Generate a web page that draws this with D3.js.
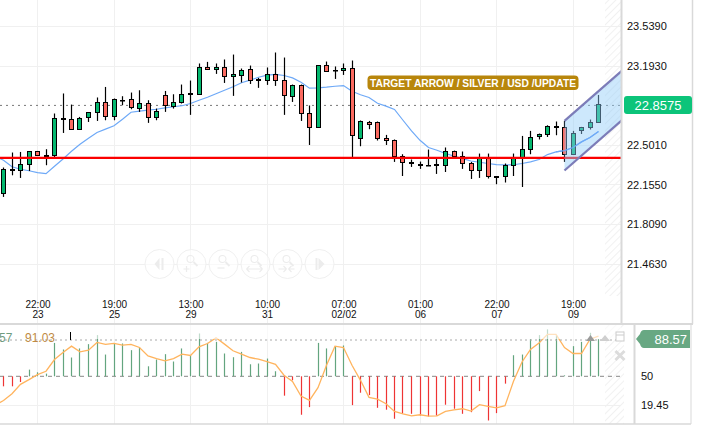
<!DOCTYPE html>
<html><head><meta charset="utf-8">
<script src="https://cdn.jsdelivr.net/npm/d3@7/dist/d3.min.js"></script>
<style>html,body{margin:0;padding:0;background:#fff}svg{display:block}text{font-family:"Liberation Sans",Arial,sans-serif}</style>
</head><body><svg id="c" width="705" height="425"></svg>
<script>
const open=[22.079,22.287,22.276,22.329,22.446,22.413,22.407,22.734,22.725,22.638,22.739,22.786,22.874,22.748,22.894,22.900,22.818,22.865,22.739,22.935,22.842,22.877,22.949,22.944,23.180,23.159,23.180,23.101,23.106,23.162,23.075,23.066,23.119,23.066,22.923,23.022,22.778,22.655,23.197,23.156,23.150,23.171,22.559,22.699,22.699,22.559,22.542,22.398,22.349,22.332,22.326,22.332,22.323,22.446,22.402,22.341,22.280,22.384,22.227,22.227,22.323,22.389,22.463,22.573,22.591,22.661,22.655,22.422,22.626,22.652,22.699];
const high=[22.306,22.437,22.442,22.446,22.451,22.466,22.778,22.953,22.856,22.748,22.786,22.918,23.010,22.909,22.929,22.961,22.981,22.894,22.821,22.975,22.946,23.031,23.066,23.215,23.229,23.215,23.250,23.293,23.171,23.197,23.089,23.180,23.311,23.267,23.031,23.031,22.848,23.197,23.232,23.189,23.215,23.241,22.717,22.713,22.708,22.591,22.551,22.422,22.376,22.358,22.463,22.398,22.481,22.454,22.446,22.355,22.428,22.428,22.230,22.341,22.428,22.582,22.626,22.603,22.675,22.708,22.713,22.626,22.661,22.725,22.940];
const low=[22.049,22.238,22.215,22.276,22.407,22.326,22.398,22.608,22.638,22.638,22.704,22.713,22.719,22.719,22.850,22.815,22.792,22.696,22.719,22.792,22.821,22.865,22.766,22.944,23.159,23.124,23.045,22.932,23.049,23.036,23.002,23.028,23.019,22.766,22.879,22.713,22.503,22.655,23.145,23.080,23.115,22.393,22.492,22.641,22.542,22.503,22.355,22.232,22.311,22.294,22.320,22.250,22.267,22.396,22.294,22.206,22.215,22.210,22.160,22.175,22.232,22.136,22.422,22.551,22.573,22.588,22.355,22.422,22.599,22.638,22.699];
const close=[22.288,22.278,22.332,22.446,22.407,22.402,22.734,22.722,22.638,22.734,22.786,22.874,22.748,22.900,22.888,22.827,22.865,22.743,22.795,22.844,22.874,22.944,22.940,23.180,23.159,23.180,23.101,23.119,23.154,23.066,23.066,23.119,23.066,22.935,23.022,22.778,22.655,23.197,23.145,23.150,23.171,22.582,22.708,22.678,22.559,22.542,22.398,22.349,22.343,22.323,22.320,22.323,22.442,22.398,22.337,22.280,22.384,22.227,22.215,22.323,22.384,22.463,22.565,22.591,22.664,22.655,22.422,22.603,22.655,22.699,22.8575];
const movingAvg=[22.404,22.370,22.313,22.291,22.278,22.262,22.253,22.317,22.381,22.448,22.509,22.562,22.612,22.641,22.671,22.728,22.789,22.798,22.807,22.815,22.827,22.837,22.846,22.865,22.894,22.920,22.951,22.981,23.012,23.047,23.069,23.095,23.113,23.119,23.110,23.089,23.051,22.999,23.002,23.008,23.016,23.022,22.973,22.942,22.918,22.868,22.842,22.813,22.719,22.626,22.544,22.481,22.457,22.428,22.405,22.384,22.363,22.352,22.341,22.332,22.329,22.330,22.341,22.356,22.376,22.419,22.442,22.454,22.481,22.530,22.568,22.620];
const histogram=[39.5,39.5,44,57,54.2,52.8,85,78.1,69.7,79.2,83.7,93.2,72.8,84.4,84.4,77.4,80.2,60.5,67.6,73.2,65.5,79.2,72.1,94.9,85,86.1,73.9,70,75.6,62.6,63.4,68.6,55.3,29.7,45.8,9.7,17.7,85,79.2,80.8,82.3,19.8,32.8,30.3,17,15,5.5,10.7,10.7,8.9,7.9,8.9,20.2,16,10.7,12.4,34.5,3.7,11.4,42.3,72.1,72.8,88.9,93.2,99.2,93.2,51,81.6,86.1,95.6,88.9];
const oscLine=[19.5,24.7,31.8,41.6,46.5,51.8,55.3,67.6,74.9,81.6,75.6,77.4,85.5,83.4,84.4,82.6,83.4,80.2,71.4,68.6,66.1,68.6,73.2,71.8,80.8,84.4,90.3,83.7,76.8,73.2,69.7,67.9,65.5,62.6,51.1,44.7,29.3,24.7,38.1,61.6,81.6,80.2,61.6,45.8,27.9,26.1,21.3,13.2,10.7,8.6,9.7,8.2,8.6,13.2,14.9,16,13.5,20.2,18.4,17,19.2,44.7,65,78.1,85,93.9,93.9,80.2,73.9,73.9,88.9,92.1];
const priceTicks=[23.5390,23.1930,22.5010,22.1550,21.8090,21.4630];
const timeTickIdx=[4,13,22,31,40,49,58,67];
const timeLabels=["22:00","19:00","13:00","10:00","07:00","01:00","22:00","19:00"];
const dateLabels=["23","25","29","31","02/02","06","07","09"];
const lastPrice=22.8575, supportPrice=22.390;
const oscTicks=[50,19.45], oscLast=88.57;
const channelIdx=[66,72.8], channelUpper=[22.713,23.155], channelLower=[22.280,22.722];
const note="TARGET ARROW / SILVER / USD /UPDATE";

const svg=d3.select("#c");
const W=621,H=324,B=424,RB=692;
const x=d3.scaleLinear().domain([0,70]).range([3.5,598.5]);
const y=d3.scaleLinear().domain([22.501,23.539]).range([145.2,26.4]);
const yo=d3.scaleLinear().domain([50,88.57]).range([376.3,339.5]);
const px=i=>Math.floor(x(i))+.5;
const snap=v=>Math.round(v-.5)+.5;
const defs=svg.append("defs");
defs.append("clipPath").attr("id","m").append("rect").attr("width",W).attr("height",H);
defs.append("clipPath").attr("id","o").append("rect").attr("y",H+1).attr("width",W).attr("height",B-H-1);
const pat=defs.append("pattern").attr("id","h").attr("width",5).attr("height",5).attr("patternUnits","userSpaceOnUse").attr("patternTransform","rotate(45)");
pat.append("line").attr("x1",0).attr("x2",0).attr("y1",0).attr("y2",5).attr("stroke","#f1f1f1").attr("stroke-width",2);

// hatch
svg.append("rect").attr("x",605).attr("y",0).attr("width",16).attr("height",296).attr("fill","url(#h)");
svg.append("rect").attr("x",605).attr("y",H+1).attr("width",19).attr("height",B-H-1).attr("fill","url(#h)");

// grid
const grid=svg.append("g").attr("stroke","#f0f0f0").attr("stroke-width",1);
priceTicks.forEach(p=>grid.append("line").attr("x1",0).attr("x2",W).attr("y1",Math.floor(y(p))+.5).attr("y2",Math.floor(y(p))+.5));
timeTickIdx.forEach(i=>{grid.append("line").attr("x1",px(i)).attr("x2",px(i)).attr("y1",0).attr("y2",H);
  grid.append("line").attr("x1",px(i)).attr("x2",px(i)).attr("y1",H+1).attr("y2",B);});
grid.append("line").attr("x1",0).attr("x2",W).attr("y1",405.5).attr("y2",405.5);

// nav buttons
const navX=[159.5,191.5,223.5,255.5,287.5,319.5];
const nav=svg.append("g");
navX.forEach((cx,k)=>{
  const g=nav.append("g").attr("transform",`translate(${cx},264)`);
  g.append("circle").attr("r",14.5).attr("fill","#fff").attr("fill-opacity",.6).attr("stroke","#f0f0f0").attr("stroke-width",1);
  const c="#ececec";
  if(k===0){g.append("path").attr("d","M-4,-6V6L-9,0Z M-2,-6H0V6H-2Z").attr("fill",c).attr("transform","translate(4,0)");}
  else if(k===5){g.append("path").attr("d","M-3,-6V6L3,0Z M-6,-6H-4V6H-6Z").attr("fill",c).attr("transform","translate(2,0)");}
  else{
    g.append("circle").attr("cx",-1).attr("cy",-5).attr("r",3.5).attr("fill","none").attr("stroke",c).attr("stroke-width",1.1);
    g.append("line").attr("x1",2).attr("y1",-2).attr("x2",6).attr("y2",2).attr("stroke",c).attr("stroke-width",1.8);
    const d={1:"M-8,5H-2M-5,2V8",2:"M-6,4H1",3:"M-9,5H7M-9,5L-6,2M-9,5L-6,8M7,5L4,2M7,5L4,8",4:"M-9,5H-1M-1,5L-4,2M-1,5L-4,8M1,5H7M1,5L4,2M1,5L4,8"}[k];
    g.append("path").attr("d",d).attr("fill","none").attr("stroke",c).attr("stroke-width",1.2);
  }
});

// axes
const axP=d3.axisRight(y).tickValues(priceTicks).tickFormat(d3.format(".4f")).tickSize(0).tickPadding(0);
const gP=svg.append("g").attr("transform","translate(627,0)").call(axP);
gP.select(".domain").remove();
gP.selectAll("text").attr("font-size",11).attr("fill","#111").attr("font-family",'"Liberation Sans",Arial,sans-serif');

const axT=d3.axisBottom(x).tickValues(timeTickIdx).tickFormat((d,i)=>timeLabels[i]).tickSize(0).tickPadding(0);
const gT=svg.append("g").attr("transform","translate(0,307.5)").call(axT);
gT.select(".domain").remove();
gT.selectAll(".tick text").attr("font-size",10).attr("fill","#111").attr("y",0).attr("dy",null).attr("font-family",'"Liberation Sans",Arial,sans-serif')
  .each(function(d,i){
    const t=d3.select(this); t.text(null);
    t.append("tspan").attr("x",0).attr("dy",0).text(timeLabels[i]);
    t.append("tspan").attr("x",0).attr("dy",10.8).text(dateLabels[i]);
  });

const axO=d3.axisRight(yo).tickValues(oscTicks).tickFormat(d=>String(d)).tickSize(0).tickPadding(0);
const gO=svg.append("g").attr("transform","translate(641,0)").call(axO);
gO.select(".domain").remove();
gO.selectAll("text").attr("font-size",11).attr("fill","#111").attr("font-family",'"Liberation Sans",Arial,sans-serif');

// main marks
const main=svg.append("g").attr("clip-path","url(#m)");
main.append("line").attr("x1",0).attr("x2",W).attr("y1",y(lastPrice)+1).attr("y2",y(lastPrice)+1).attr("stroke","#777").attr("stroke-width",1).attr("stroke-dasharray","2 4");
main.append("path").datum(movingAvg).attr("fill","none").attr("stroke","#6ea9f7").attr("stroke-width",1.2)
  .attr("d",d3.line().x((d,i)=>x(i-1)).y(d=>y(d)));
const idx=d3.range(open.length);
const cs=main.append("g").selectAll("g").data(idx).join("g");
cs.append("line").attr("x1",px).attr("x2",px).attr("y1",i=>y(high[i])).attr("y2",i=>y(low[i])).attr("stroke","#000").attr("stroke-width",1.2);
cs.append("rect").attr("x",i=>px(i)-2).attr("width",4)
  .attr("y",i=>snap(y(Math.max(open[i],close[i]))))
  .attr("height",i=>Math.max(.5,snap(y(Math.min(open[i],close[i])))-snap(y(Math.max(open[i],close[i])))))
  .attr("fill",i=>close[i]>=open[i]?"#04b86f":"#fb6a60").attr("stroke","#000").attr("stroke-width",1);
main.append("line").attr("x1",0).attr("x2",W).attr("y1",y(supportPrice)).attr("y2",y(supportPrice)).attr("stroke","#fb0000").attr("stroke-width",2.2);
// channel
const cp=[[channelIdx[0],channelUpper[0]],[channelIdx[1],channelUpper[1]],[channelIdx[1],channelLower[1]],[channelIdx[0],channelLower[0]]];
main.append("path").attr("d",d3.line().x(d=>x(d[0])).y(d=>y(d[1]))(cp)+"Z").attr("fill","#90cbf9").attr("fill-opacity",.45);
[[0,1],[3,2]].forEach(([a,b])=>main.append("line").attr("x1",x(cp[a][0])).attr("y1",y(cp[a][1])).attr("x2",x(cp[b][0])).attr("y2",y(cp[b][1])).attr("stroke","#7c7cb8").attr("stroke-width",2.2));
main.append("path").datum(movingAvg.slice(66)).attr("fill","none").attr("stroke","#6ea9f7").attr("stroke-width",1.2)
  .attr("d",d3.line().x((d,i)=>x(i+65)).y(d=>y(d)));

// note
svg.append("rect").attr("x",367.5).attr("y",75.5).attr("width",211).attr("height",14.5).attr("rx",4).attr("fill","#b8860b");
svg.append("text").attr("x",473).attr("y",83).attr("dy",".35em").attr("text-anchor","middle").attr("fill","#fff").attr("font-size",11.5).attr("font-weight","bold").attr("textLength",206).attr("lengthAdjust","spacingAndGlyphs").text(note);

// oscillator
const os=svg.append("g").attr("clip-path","url(#o)");
os.append("line").attr("x1",0).attr("x2",W+3).attr("y1",yo(50)).attr("y2",yo(50)).attr("stroke","#888").attr("stroke-width",1).attr("stroke-dasharray","4 4");
os.append("g").selectAll("line").data(histogram).join("line")
  .attr("x1",(d,i)=>px(i)).attr("x2",(d,i)=>px(i)).attr("y1",yo(50)).attr("y2",d=>yo(d))
  .attr("stroke",d=>d>=50?"#63a57f":"#ee3434").attr("stroke-width",1.2);
os.append("path").datum(oscLine).attr("fill","none").attr("stroke","#ffb45e").attr("stroke-width",1.3)
  .attr("d",d3.line().x((d,i)=>x(i-1)).y(d=>yo(d)));
svg.append("rect").attr("x",0).attr("y",H+1).attr("width",W).attr("height",14).attr("fill","#fff").attr("fill-opacity",.6);
svg.append("line").attr("x1",0).attr("x2",W+3).attr("y1",yo(oscLast)+.5).attr("y2",yo(oscLast)+.5).attr("stroke","#aaa").attr("stroke-width",1).attr("stroke-dasharray","2 3");
svg.append("text").attr("x",-1).attr("y",337.5).attr("dy",".35em").attr("font-size",12).attr("fill","#6f9c80").text("57");
svg.append("text").attr("x",25).attr("y",337.5).attr("dy",".35em").attr("font-size",12).attr("fill","#c08a44").text("91.03");
svg.append("line").attr("x1",70.5).attr("x2",70.5).attr("y1",332).attr("y2",340).attr("stroke","#000").attr("stroke-width",1);
// small panel icons
svg.append("path").attr("d","M586,341L590.5,335L595,341Z").attr("fill","#9a9a9a");
svg.append("path").attr("d","M600,341L605,335L610,341Z").attr("fill","#cfcfcf");
svg.append("rect").attr("x",616).attr("y",332).attr("width",8).attr("height",9).attr("fill","#fff").attr("stroke","#ccc");
svg.append("line").attr("x1",616).attr("x2",624).attr("y1",335).attr("y2",335).attr("stroke","#ccc");
svg.append("path").attr("d","M615.5,351L624.5,360M624.5,351L615.5,360").attr("stroke","#dcdcdc").attr("stroke-width",3).attr("fill","none");

// frame
const fr=svg.append("g").attr("stroke","#d9d9d9").attr("fill","none");
fr.append("line").attr("x1",0).attr("x2",RB+1).attr("y1",324).attr("y2",324).attr("stroke-width",2);
fr.append("line").attr("x1",621.5).attr("x2",621.5).attr("y1",0).attr("y2",324).attr("stroke-width",2);
fr.append("line").attr("x1",692.5).attr("x2",692.5).attr("y1",0).attr("y2",324).attr("stroke-width",1.5);
fr.append("line").attr("x1",634.5).attr("x2",634.5).attr("y1",325).attr("y2",424).attr("stroke-width",2);
fr.append("line").attr("x1",691).attr("x2",691).attr("y1",325).attr("y2",424).attr("stroke-width",1);
fr.append("line").attr("x1",0).attr("x2",691).attr("y1",424).attr("y2",424).attr("stroke-width",1.5);

// last labels
svg.append("rect").attr("x",624).attr("y",96).attr("width",68).attr("height",18).attr("rx",3).attr("fill","#0cc47a");
svg.append("text").attr("x",658).attr("y",105).attr("dy",".36em").attr("text-anchor","middle").attr("fill","#fff").attr("font-size",13).text(d3.format(".4f")(lastPrice));
svg.append("path").attr("d","M636,339L640,334Q641,330 644,330H690V348H644Q641,348 640,344Z").attr("fill","#68a883");
svg.append("text").attr("x",687).attr("y",339).attr("dy",".36em").attr("text-anchor","end").attr("fill","#fff").attr("font-size",13).text(oscLast);
</script></body></html>
